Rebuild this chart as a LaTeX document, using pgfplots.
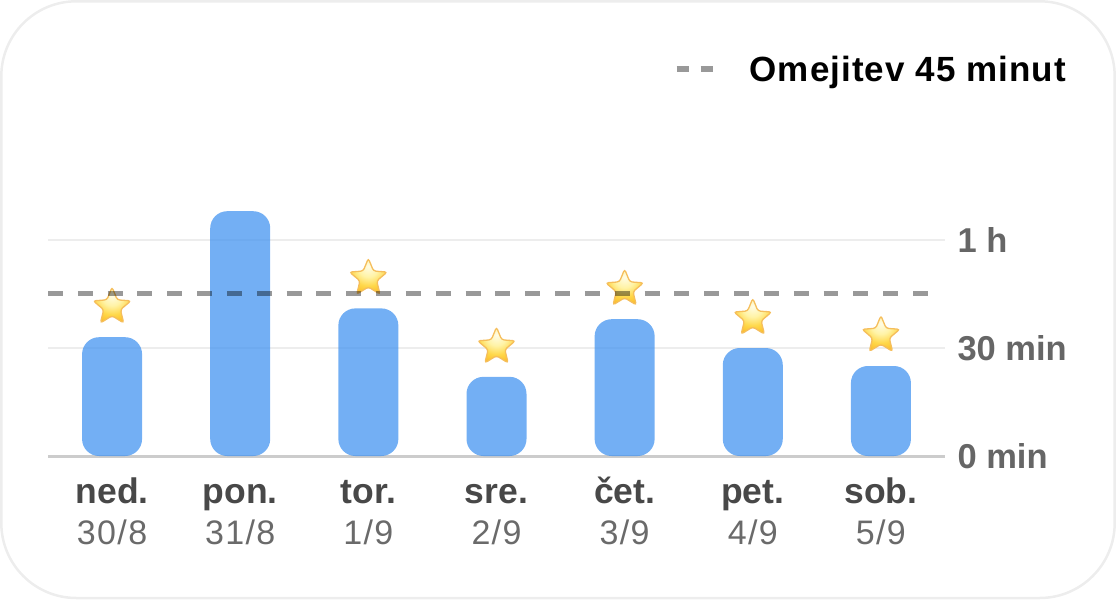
\documentclass[border=0pt]{standalone}
\usepackage{pgfplots}
\pgfplotsset{compat=1.18}
\usepackage{fontspec}
\setmainfont{Liberation Sans}
\definecolor{barblue}{HTML}{3F92F0}
\definecolor{labgrey}{HTML}{666666}
\definecolor{daybold}{HTML}{484848}
\definecolor{dategrey}{HTML}{6A6A6A}
\definecolor{s1}{HTML}{FFFCE6}
\definecolor{s2}{HTML}{FFF3A6}
\definecolor{s3}{HTML}{FFD84A}
\definecolor{s4}{HTML}{FAB21E}
\definecolor{s5}{HTML}{EE9410}
\definecolor{sline}{HTML}{F5BE5C}
\pgfdeclareradialshading{starshade}{\pgfpoint{0bp}{14bp}}{%
  color(0bp)=(s1); color(13bp)=(s2); color(24bp)=(s3);
  color(38bp)=(s4); color(54bp)=(s5); color(100bp)=(s5)}
\pgfdeclareplotmark{goldstar}{%
  \begin{scope}[yshift=-0.4pt]
  \path[draw=sline, line width=1.3pt, rounded corners=2.6pt, shading=starshade]
    (90:19.8pt) -- (126:8.8pt) -- (162:19.8pt) -- (198:8.8pt) -- (234:19.8pt) -- (270:8.8pt)
    -- (306:19.8pt) -- (342:8.8pt) -- (18:19.8pt) -- (54:8.8pt) -- cycle;
  \end{scope}%
}
\newcommand\xl[2]{\rule{0pt}{28pt}\fontsize{35.5}{41.5}\selectfont\textcolor{daybold}{\textbf{#1}}\\\rule{0pt}{28pt}\addfontfeature{LetterSpace=4}\fontsize{34}{41.5}\selectfont\textcolor{dategrey}{#2}}
\begin{document}
\begin{tikzpicture}
\useasboundingbox (-48pt,-144pt) rectangle (1068pt,456pt);
\draw[draw=black!7, line width=2.5pt, rounded corners=75pt] (-46.7pt,-142pt) rectangle (1066.7pt,454.7pt);
\begin{axis}[
  at={(0pt,0pt)}, anchor=south west,
  scale only axis, width=897pt, height=416pt,
  xmin=-0.5, xmax=6.5, ymin=0, ymax=115.556,
  clip mode=individual,
  axis x line=bottom, axis y line=right,
  x axis line style={-, draw=black!20, line width=3pt},
  y axis line style={draw=none},
  xtick={0,1,2,3,4,5,6},
  ytick={0,30,60},
  yticklabels={0 min,30 min,1 h},
  major tick length=0pt,
  ymajorgrids, grid style={draw=black!7, line width=2pt},
  xticklabel style={font=\fontsize{35.5}{41.5}\selectfont, align=center, yshift=-15.5pt},
  yticklabel style={font=\fontsize{34.5}{38}\selectfont\bfseries, text=labgrey, anchor=west, xshift=9pt},
  xticklabels={{\xl{ned.}{30/8}},{\xl{pon.}{31/8}},{\xl{tor.}{1/9}},{\xl{sre.}{2/9}},{\xl{čet.}{3/9}},{\xl{pet.}{4/9}},{\xl{sob.}{5/9}}},
  legend style={draw=none, fill=none, at={(1,1)}, anchor=north east, font=\fontsize{35}{40}\selectfont\bfseries\addfontfeature{LetterSpace=3}, inner sep=0pt, xshift=123pt, yshift=-13.5pt, /tikz/every odd column/.append style={column sep=32pt}},
  legend cell align=left,
  legend image code/.code={\draw[draw=black, draw opacity=0.4, line width=6pt, dash pattern=on 12pt off 12pt] (0pt,0pt) -- (36pt,0pt);},
]
\addplot[ybar, bar width=60pt, draw=none, fill=barblue, fill opacity=0.73, rounded corners=17pt, forget plot]
  coordinates {(0,33) (1,68) (2,41) (3,22) (4,38) (5,30) (6,25)};
\addplot[only marks, mark=goldstar, forget plot]
  coordinates {(0,41.4) (2,49.4) (3,30.3) (4,46.4) (5,38.3) (6,33.5)};
\addplot[draw=black, draw opacity=0.4, line width=5.7pt, dash pattern=on 14.9pt off 14.93pt]
  coordinates {(-0.5,45.1) (6.367,45.1)};
\addlegendentry{Omejitev 45 minut}
\end{axis}
\end{tikzpicture}
\end{document}
